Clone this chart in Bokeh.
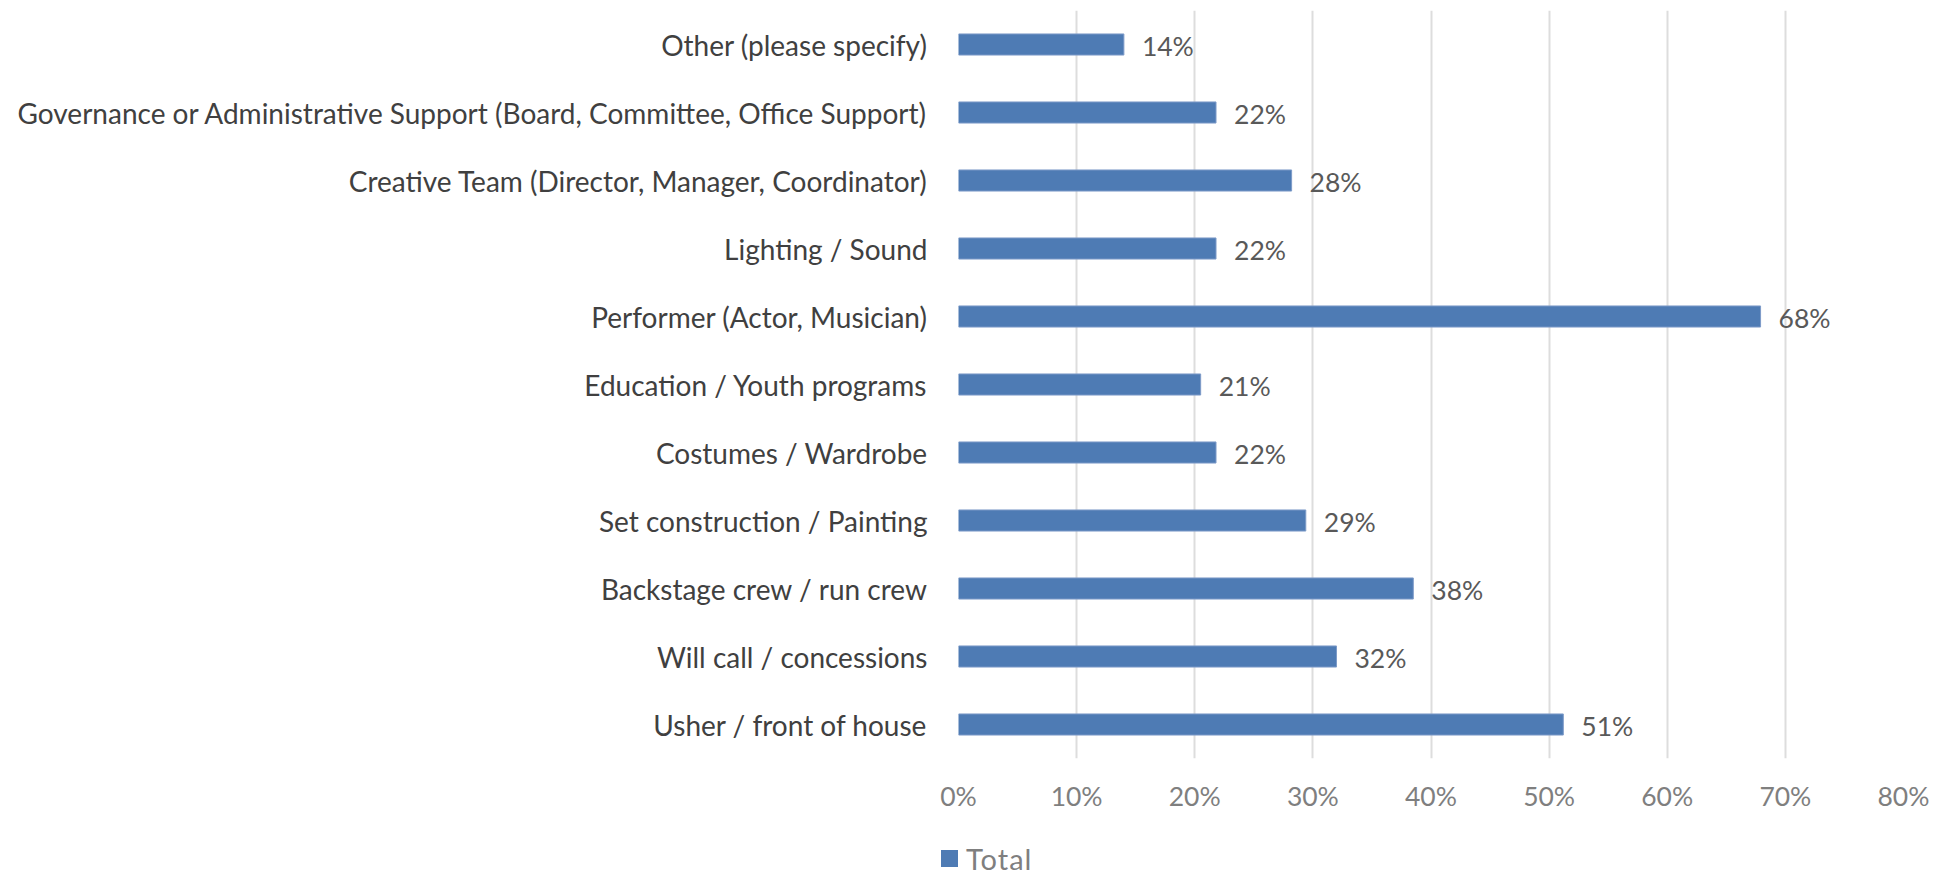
from bokeh.plotting import figure
from bokeh.layouts import column
from bokeh.models import FactorRange, NumeralTickFormatter, FixedTicker, ColumnDataSource, Div
from bokeh.core.properties import value
from bokeh.embed import file_html
from bokeh.resources import INLINE

categories = [
    "Usher / front of house",
    "Will call / concessions",
    "Backstage crew / run crew",
    "Set construction / Painting",
    "Costumes / Wardrobe",
    "Education / Youth programs",
    "Performer (Actor, Musician)",
    "Lighting / Sound",
    "Creative Team (Director, Manager, Coordinator)",
    "Governance or Administrative Support (Board, Committee, Office Support)",
    "Other (please specify)",
]
totals = [0.512, 0.320, 0.385, 0.294, 0.218, 0.205, 0.679, 0.218, 0.282, 0.218, 0.140]
labels = ["51%", "32%", "38%", "29%", "22%", "21%", "68%", "22%", "28%", "22%", "14%"]
x_ticks = [0, 0.1, 0.2, 0.3, 0.4, 0.5, 0.6, 0.7, 0.8]
series_name = "Total"

BAR_FILL = "#4E7BB4"
BAR_LINE = "#7D9BC8"

src = ColumnDataSource(dict(cat=categories, val=totals, lab=labels))

p = figure(width=1932, height=830, output_backend="svg", toolbar_location=None,
           y_range=FactorRange(*categories, range_padding=0), x_range=(0, 0.8),
           min_border_left=958, min_border_right=29, min_border_top=10, min_border_bottom=72)
p.outline_line_color = None
p.background_fill_color = "white"

bars = p.hbar(y="cat", right="val", left=0, height=0.31, source=src,
              fill_color=BAR_FILL, line_color=BAR_LINE, line_width=1)

p.text(x="val", y="cat", text="lab", source=src, x_offset=18, y_offset=1,
       text_baseline="middle", text_align="left", text_font=value("Lato"),
       text_font_size="26.5px", text_color="#595959")

p.xaxis.ticker = FixedTicker(ticks=x_ticks)
p.xaxis.formatter = NumeralTickFormatter(format="0%")
p.xaxis.axis_line_color = None
p.xaxis.major_tick_line_color = None
p.xaxis.minor_tick_line_color = None
p.xaxis.major_label_standoff = 15
p.xaxis.major_label_text_font = "Lato"
p.xaxis.major_label_text_font_size = "26.5px"
p.xaxis.major_label_text_color = "#7F7F7F"

p.yaxis.axis_line_color = None
p.yaxis.major_tick_line_color = None
p.yaxis.minor_tick_line_color = None
p.yaxis.major_label_standoff = 25
p.yaxis.major_label_text_font = "Lato"
p.yaxis.major_label_text_font_size = "28px"
p.yaxis.major_label_text_color = "#404040"

p.ygrid.grid_line_color = None
p.xgrid.ticker = FixedTicker(ticks=x_ticks)
p.xgrid.grid_line_color = "#DDDDDD"
p.xgrid.grid_line_width = 2

legend_html = (
    '<div style="display:flex;align-items:center;margin-left:936px;padding-top:23px;'
    'height:19px;font-family:Lato;font-size:29px;color:#7F7F7F;line-height:19px;'
    'letter-spacing:1px;">'
    f'<span style="display:inline-block;width:17px;height:17px;background:{BAR_FILL};'
    f'margin-right:8px;"></span>{series_name}</div>'
)
leg = Div(text=legend_html, width=1932, height=42)

layout = column(p, leg, spacing=0)
open("out.html", "w").write(file_html(layout, INLINE))
